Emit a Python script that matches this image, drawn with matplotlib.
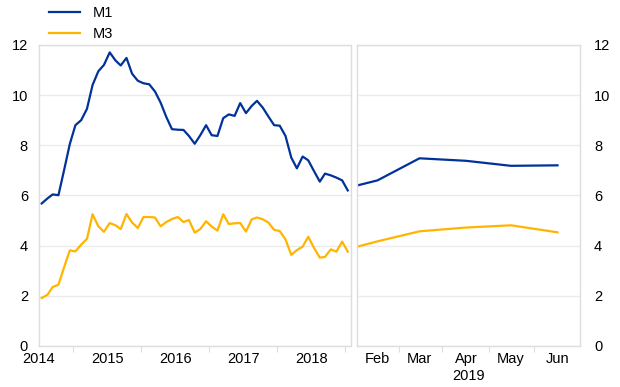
"""
M1 / M3 growth chart: monthly history (left) and 2019 months (right)
"""
import matplotlib
matplotlib.use("Agg")
import matplotlib.pyplot as plt
import matplotlib.dates as mdates
import pandas as pd

plt.rcParams["font.family"] = ["Liberation Sans", "DejaVu Sans"]
plt.rcParams["font.size"] = 10

BLUE = "#003299"
YELLOW = "#FFB400"
GRID = "#ebebeb"
FRAME = "#dddddd"

# monthly history, Jan 2014 - Jul 2018 (plotted mid-month)
hist_dates = pd.date_range("2014-01-01", periods=55, freq="MS") + pd.Timedelta(days=14)
m1_hist = [5.68, 5.88, 6.04, 6.01, 7.0, 8.05, 8.8, 9.0, 9.45, 10.4, 10.95, 11.2,
           11.7, 11.38, 11.18, 11.48, 10.85, 10.57, 10.47, 10.43, 10.14, 9.7, 9.12, 8.64,
           8.62, 8.61, 8.37, 8.06, 8.4, 8.8, 8.4, 8.37, 9.08, 9.23, 9.17, 9.68,
           9.28, 9.57, 9.77, 9.5, 9.15, 8.8, 8.78, 8.37, 7.51, 7.08, 7.55, 7.4,
           6.97, 6.55, 6.87, 6.8, 6.71, 6.6, 6.2]
m3_hist = [1.91, 2.04, 2.35, 2.44, 3.13, 3.81, 3.77, 4.04, 4.27, 5.25, 4.77, 4.55,
           4.9, 4.81, 4.66, 5.26, 4.92, 4.7, 5.14, 5.14, 5.12, 4.77, 4.94, 5.06,
           5.14, 4.94, 5.02, 4.52, 4.66, 4.97, 4.76, 4.6, 5.25, 4.86, 4.89, 4.9,
           4.56, 5.05, 5.12, 5.05, 4.92, 4.63, 4.58, 4.25, 3.63, 3.82, 3.96, 4.35,
           3.91, 3.52, 3.55, 3.85, 3.76, 4.16, 3.76]

# 2019 panel
recent_dates = pd.to_datetime(["2019-01-18", "2019-02-01", "2019-03-01",
                               "2019-04-01", "2019-05-01", "2019-06-01"])
m1_recent = [6.39, 6.6, 7.48, 7.38, 7.18, 7.2]
m3_recent = [3.95, 4.17, 4.57, 4.72, 4.81, 4.53]
month_labels = ["Feb", "Mar", "Apr", "May", "Jun"]

fig = plt.figure(figsize=(6.2, 3.87), dpi=100)
ax1 = fig.add_axes([0.063, 0.106, 0.503, 0.778])
ax2 = fig.add_axes([0.575, 0.106, 0.3605, 0.778])

for ax in (ax1, ax2):
    ax.set_ylim(0, 12)
    ax.set_yticks(range(0, 13, 2))
    ax.grid(True, axis="y", color=GRID, linewidth=1)
    ax.set_axisbelow(True)
    for sp in ax.spines.values():
        sp.set_color(FRAME)
        sp.set_linewidth(1)
    ax.tick_params(axis="y", length=0, pad=8, labelsize=10.5)
    ax.tick_params(axis="x", which="major", length=0, pad=4, labelsize=10.5)
    ax.tick_params(axis="x", which="minor", length=4, color=FRAME, width=0.8)

# left panel
ax1.plot(hist_dates, m1_hist, color=BLUE, lw=1.6, label="M1")
ax1.plot(hist_dates, m3_hist, color=YELLOW, lw=1.6, label="M3")
ax1.set_xlim(pd.Timestamp("2014-01-01"), pd.Timestamp("2018-08-01"))
ax1.xaxis.set_major_locator(mdates.YearLocator())
ax1.xaxis.set_major_formatter(mdates.DateFormatter("%Y"))
ax1.xaxis.set_minor_locator(mdates.MonthLocator(bymonth=7))

# right panel
ax2.plot(recent_dates, m1_recent, color=BLUE, lw=1.6)
ax2.plot(recent_dates, m3_recent, color=YELLOW, lw=1.6)
ax2.set_xlim(pd.Timestamp("2019-01-18"), pd.Timestamp("2019-06-16"))
ax2.set_xticks(recent_dates[1:])
ax2.set_xticklabels(month_labels)
ax2.set_xticks(pd.to_datetime(["2019-02-15", "2019-03-16", "2019-04-16", "2019-05-16"]),
               minor=True)
ax2.yaxis.tick_right()
ax2.tick_params(axis="y", pad=10)
ax2.text(0.5, -0.1, "2019", transform=ax2.transAxes, ha="center", va="center",
         fontsize=10.5)

fig.legend(loc="upper left", bbox_to_anchor=(0.058, 1.018), frameon=False,
           handlelength=2.1, handletextpad=0.9, labelspacing=0.45, fontsize=10.5)

fig.savefig("out.png", dpi=100)
